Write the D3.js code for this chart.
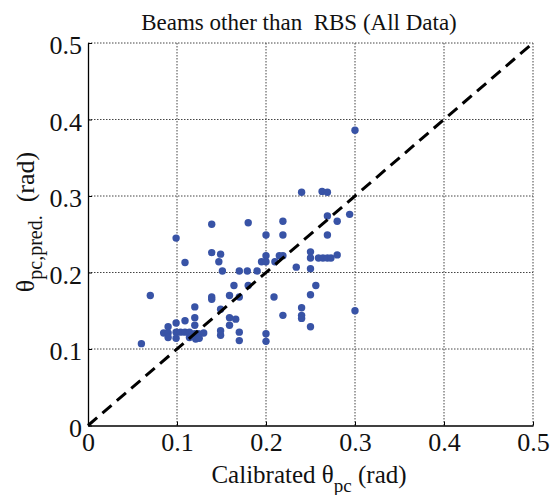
<!DOCTYPE html>
<html>
<head>
<meta charset="utf-8">
<script src="https://cdn.jsdelivr.net/npm/d3@7"></script>
<style>
  body { margin: 0; background: #fff; }
  svg text { font-family: "Times New Roman", Times, "Liberation Serif", "DejaVu Serif", serif; fill: #111; }
</style>
</head>
<body>
<div id="chart"></div>
<script>
// calibrated theta_pc (x) vs predicted theta_pc (y)
const calibrated = [
  0.300, 0.240, 0.263, 0.269, 0.139, 0.180, 0.219, 0.269, 0.280, 0.294,
  0.200, 0.219, 0.269, 0.099, 0.139, 0.149, 0.109, 0.147, 0.151, 0.170,
  0.179, 0.190, 0.195, 0.200, 0.200, 0.215, 0.219, 0.210, 0.234, 0.250,
  0.250, 0.250, 0.259, 0.264, 0.269, 0.273, 0.280, 0.164, 0.180, 0.256,
  0.070, 0.139, 0.139, 0.159, 0.170, 0.250, 0.209, 0.120, 0.149, 0.240,
  0.240, 0.240, 0.219, 0.159, 0.166, 0.159, 0.250, 0.300, 0.090, 0.120,
  0.109, 0.099, 0.120, 0.085, 0.090, 0.090, 0.099, 0.099, 0.104, 0.109,
  0.114, 0.114, 0.120, 0.124, 0.130, 0.121, 0.125, 0.149, 0.149, 0.170,
  0.170, 0.200, 0.200, 0.060
];
const predicted = [
  0.386, 0.305, 0.306, 0.305, 0.263, 0.265, 0.267, 0.274, 0.267, 0.276,
  0.249, 0.249, 0.249, 0.245, 0.226, 0.224, 0.213, 0.214, 0.202, 0.202,
  0.202, 0.202, 0.214, 0.222, 0.214, 0.222, 0.222, 0.214, 0.207, 0.227,
  0.219, 0.205, 0.219, 0.219, 0.219, 0.219, 0.223, 0.183, 0.183, 0.183,
  0.170, 0.168, 0.165, 0.170, 0.168, 0.171, 0.168, 0.155, 0.152, 0.154,
  0.144, 0.140, 0.144, 0.141, 0.139, 0.131, 0.129, 0.150, 0.129, 0.141,
  0.137, 0.134, 0.131, 0.121, 0.121, 0.115, 0.122, 0.114, 0.122, 0.122,
  0.122, 0.115, 0.120, 0.120, 0.121, 0.113, 0.114, 0.124, 0.118, 0.122,
  0.111, 0.120, 0.110, 0.107
];
const tickValues = [0, 0.1, 0.2, 0.3, 0.4, 0.5];
const refLine = [0, 0.5];

const points = calibrated.map((x, i) => ({ x: x, y: predicted[i] }));

const width = 550;
const height = 495;
const margin = { top: 43, right: 17, bottom: 69.5, left: 88 };
const serif = '"Times New Roman", Times, "Liberation Serif", "DejaVu Serif", serif';

const svg = d3.select('#chart')
  .append('svg')
  .attr('width', width)
  .attr('height', height)
  .attr('font-family', serif);

const xScale = d3.scaleLinear().domain([0, 0.5]).range([margin.left, width - margin.right]);
const yScale = d3.scaleLinear().domain([0, 0.5]).range([height - margin.bottom, margin.top]);

const fmt = (d) => (d === 0 ? '0' : d.toFixed(1));

// dotted grid
const grid = svg.append('g').attr('class', 'grid');
grid.selectAll('line.gx')
  .data(tickValues.slice(1))
  .join('line')
  .attr('x1', (d) => xScale(d)).attr('x2', (d) => xScale(d))
  .attr('y1', yScale(0)).attr('y2', yScale(0.5))
  .attr('stroke', '#444').attr('stroke-width', 1).attr('stroke-dasharray', '1.5,1.5');
grid.selectAll('line.gy')
  .data(tickValues.slice(1))
  .join('line')
  .attr('x1', xScale(0)).attr('x2', xScale(0.5))
  .attr('y1', (d) => yScale(d)).attr('y2', (d) => yScale(d))
  .attr('stroke', '#444').attr('stroke-width', 1).attr('stroke-dasharray', '1.5,1.5');

// dots
svg.append('g')
  .selectAll('circle')
  .data(points)
  .join('circle')
  .attr('cx', (d) => xScale(d.x))
  .attr('cy', (d) => yScale(d.y))
  .attr('r', 3.7)
  .attr('fill', '#3853a6');

// 1:1 dashed line
svg.append('line')
  .attr('x1', xScale(refLine[0])).attr('y1', yScale(refLine[0]))
  .attr('x2', xScale(refLine[1])).attr('y2', yScale(refLine[1]))
  .attr('stroke', '#000')
  .attr('stroke-width', 3)
  .attr('stroke-dasharray', '12,7');

// axes (ticks pointing inward)
const xAxis = svg.append('g')
  .attr('transform', `translate(0, ${yScale(0)})`)
  .call(d3.axisBottom(xScale).tickValues(tickValues).tickFormat(fmt).tickSizeInner(-4).tickSizeOuter(0).tickPadding(8));
const yAxis = svg.append('g')
  .attr('transform', `translate(${xScale(0)}, 0)`)
  .call(d3.axisLeft(yScale).tickValues(tickValues).tickFormat(fmt).tickSizeInner(-4).tickSizeOuter(0).tickPadding(6));

[xAxis, yAxis].forEach((ax) => {
  ax.attr('font-family', serif).attr('font-size', 26);
  ax.select('.domain').attr('stroke', '#000').attr('stroke-width', 1.3);
  ax.selectAll('.tick line').attr('stroke', '#000');
  ax.selectAll('.tick text').attr('fill', '#111');
});
xAxis.selectAll('.tick text').attr('dy', '0.66em');
yAxis.selectAll('.tick text').attr('dy', '0.42em');

// title
svg.append('text')
  .attr('x', 299)
  .attr('y', 30)
  .attr('text-anchor', 'middle')
  .attr('font-size', 23)
  .text('Beams other than\u00a0 RBS (All Data)');

// x label
const xl = svg.append('text')
  .attr('x', 309)
  .attr('y', 483)
  .attr('text-anchor', 'middle')
  .attr('font-size', 25);
xl.append('tspan').text('Calibrated θ');
xl.append('tspan').attr('dy', 9).attr('font-size', 19).text('pc');
xl.append('tspan').attr('dy', -9).text('\u00a0(rad)');

// y label
const yl = svg.append('text')
  .attr('transform', 'translate(34, 222) rotate(-90)')
  .attr('text-anchor', 'middle')
  .attr('font-size', 26);
yl.append('tspan').text('θ');
yl.append('tspan').attr('dy', 8).attr('font-size', 20).text('pc,pred.');
yl.append('tspan').attr('dy', -8).text('\u00a0\u00a0(rad)');
</script>
</body>
</html>
